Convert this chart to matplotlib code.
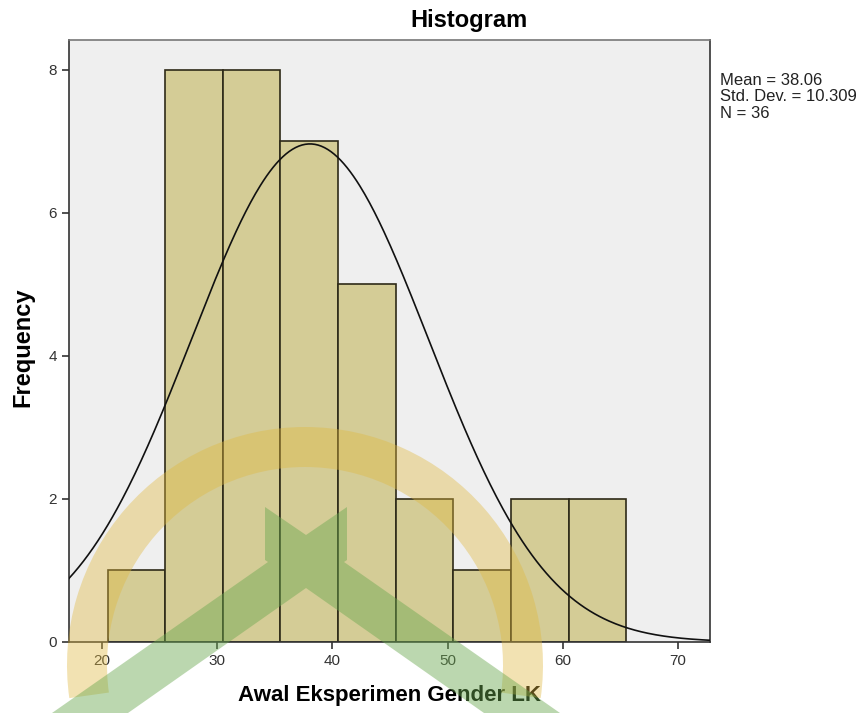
import numpy as np
import matplotlib.pyplot as plt
from matplotlib.patches import Wedge, Polygon
from matplotlib.transforms import IdentityTransform

# Datos del histograma
bin_edges = [20.5, 25.5, 30.5, 35.5, 40.5, 45.5, 50.5, 55.5, 60.5, 65.5]
counts = [1, 8, 8, 7, 5, 2, 1, 2, 2]
mean = 38.06
std = 10.309
n = 36
x_ticks = [20, 30, 40, 50, 60, 70]
y_ticks = [0, 2, 4, 6, 8]

plt.rcParams['font.family'] = ['Liberation Sans', 'DejaVu Sans']

W, H = 863.0, 713.0
fig = plt.figure(figsize=(8.63, 7.13), dpi=100)
ax = fig.add_axes([0.080, 0.0996, 0.743, 0.8444])
ax.set_facecolor('#efefef')

lefts = np.array(bin_edges[:-1])
widths = np.diff(bin_edges)
ax.bar(lefts, counts, width=widths, align='edge', color='#d4cc96',
       edgecolor='#2e2a18', linewidth=1.2, zorder=2)

# Curva normal
xlim = (17.15, 72.8)
xs = np.linspace(xlim[0], xlim[1], 400)
bw = widths[0]
ys = n * bw / (std * np.sqrt(2 * np.pi)) * np.exp(-0.5 * ((xs - mean) / std) ** 2)
ax.plot(xs, ys, color='#111111', linewidth=1.2, zorder=3)

ax.set_xlim(*xlim)
ax.set_ylim(0, 8.42)
ax.set_xticks(x_ticks)
ax.set_yticks(y_ticks)
ax.tick_params(direction='out', length=5, width=1.2, color='#333333',
               labelsize=11, labelcolor='#333333')
for s in ax.spines.values():
    s.set_color('#333333')
    s.set_linewidth(1.2)
ax.spines['top'].set_color('#777777')

# Textos (posiciones en pixeles de la figura)
fig.text(469 / W, 1 - 20 / H, 'Histogram', fontsize=17, fontweight='bold',
         ha='center', va='center')
fig.text(389 / W, 1 - 696 / H, 'Awal Eksperimen Gender LK', fontsize=16,
         fontweight='bold', ha='center', va='center')
fig.text(23 / W, 1 - 347 / H, 'Frequency', fontsize=17, fontweight='bold',
         rotation=90, ha='center', va='center')

fig.text(720 / W, 1 - 73 / H,
         'Mean = %.2f\nStd. Dev. = %.3f\nN = %d' % (mean, std, n),
         fontsize=12, va='top', ha='left', color='#222222', linespacing=1.12)

# Marca de agua (arco dorado y X verde), en pixeles de la figura
arc = Wedge((305, H - 665), 238, -8, 188, width=40, transform=IdentityTransform(),
            facecolor='#e0b840', alpha=0.4, edgecolor='none', zorder=5)
fig.patches.append(arc)

# contorno de la X (pixeles, y hacia abajo)
x_outline = [(265, 507), (306, 535), (347, 507), (347, 560), (344, 562),
             (560, 713), (484, 713), (306, 588), (128, 713), (52, 713),
             (268, 562), (265, 560)]
poly = Polygon([(x, H - y) for x, y in x_outline], closed=True,
               transform=IdentityTransform(), facecolor='#6aa84f',
               alpha=0.45, edgecolor='none', zorder=5)
fig.patches.append(poly)

fig.savefig('out.png', dpi=100)
